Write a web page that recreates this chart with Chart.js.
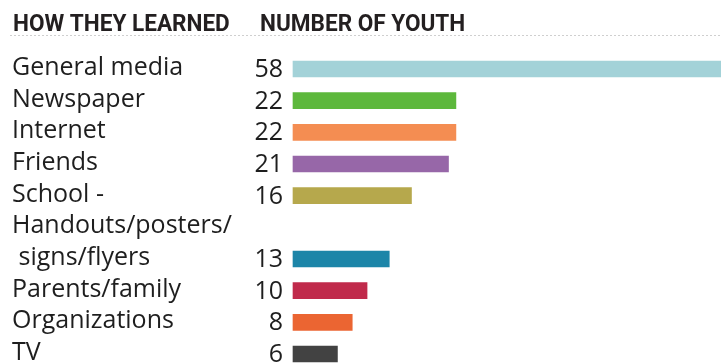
<!DOCTYPE html>
<html>
<head>
<meta charset="utf-8">
<script src="https://cdn.jsdelivr.net/npm/chart.js@4/dist/chart.umd.min.js"></script>
<style>
html,body{margin:0;padding:0;background:#fff;}
#wrap{position:relative;width:721px;height:364px;}
</style>
</head>
<body>
<div id="wrap"><canvas id="c" width="721" height="364"></canvas></div>
<script>
// Rows (the two-line label occupies two rows; the bar sits on the second line)
const rowLabels = ["General media", "Newspaper", "Internet", "Friends", "School -",
  "Handouts/posters/", " signs/flyers", "Parents/family", "Organizations", "TV"];
const youthCounts = [58, 22, 22, 21, 16, null, 13, 10, 8, 6];
const barColors = ["#a3d2d8", "#5db83c", "#f48d52", "#9767a8", "#b6a84c",
  "#ffffff", "#1c85a8", "#c02a4b", "#eb6532", "#424242"];
const headers = ["HOW THEY LEARNED", "NUMBER OF YOUTH"];

const labelFont = '25px "Open Sans", sans-serif';

const overlay = {
  id: 'overlay',
  afterDraw(chart) {
    const ctx = chart.ctx;
    const y = chart.scales.y;
    ctx.save();
    // headers (slightly condensed bold)
    ctx.fillStyle = '#231f20';
    ctx.font = 'bold 24px Roboto, sans-serif';
    ctx.textBaseline = 'alphabetic';
    ctx.textAlign = 'left';
    const sx = 0.94;
    ctx.save();
    ctx.scale(sx, 1);
    ctx.fillText(headers[0], 13 / sx, 31);
    ctx.fillText(headers[1], 260 / sx, 31);
    ctx.restore();
    // dotted rule
    ctx.strokeStyle = '#cfcfcf';
    ctx.lineWidth = 1;
    ctx.setLineDash([2, 2]);
    ctx.beginPath();
    ctx.moveTo(10, 35.5);
    ctx.lineTo(720, 35.5);
    ctx.stroke();
    ctx.setLineDash([]);
    // category labels and values
    ctx.font = labelFont;
    ctx.textBaseline = 'middle';
    ctx.fillStyle = '#1e1e1e';
    rowLabels.forEach((lab, i) => {
      const py = y.getPixelForValue(i);
      ctx.textAlign = 'left';
      ctx.fillText(lab, 12, py - 1);
      if (youthCounts[i] !== null) {
        ctx.textAlign = 'right';
        ctx.fillText(String(youthCounts[i]), 283, py + 1);
      }
    });
    ctx.restore();
  }
};

new Chart(document.getElementById('c'), {
  type: 'bar',
  data: {
    labels: rowLabels,
    datasets: [{
      data: youthCounts,
      backgroundColor: barColors,
      borderWidth: 0,
      barThickness: 16,
      clip: false
    }]
  },
  options: {
    indexAxis: 'y',
    responsive: false,
    animation: false,
    layout: { padding: { left: 293, right: 0, top: 69, bottom: 10 } },
    plugins: { legend: { display: false }, tooltip: { enabled: false } },
    scales: {
      x: { display: false, min: 0, max: 57.8 },
      y: { display: false, offset: false }
    }
  },
  plugins: [overlay]
});
</script>
</body>
</html>
